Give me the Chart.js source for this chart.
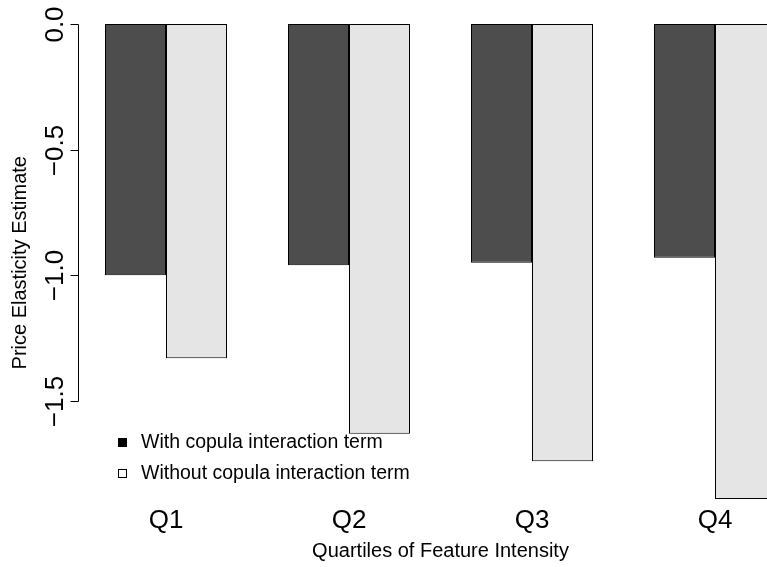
<!DOCTYPE html>
<html>
<head>
<meta charset="utf-8">
<style>
  html, body { margin: 0; padding: 0; overflow: hidden; background: #ffffff; }
  #wrap { width: 830px; height: 567px; }
</style>
<script src="https://cdn.jsdelivr.net/npm/chart.js@4/dist/chart.umd.min.js"></script>
</head>
<body>
<div id="wrap"><canvas id="c" width="830" height="567"></canvas></div>
<script>
const categories = ['Q1', 'Q2', 'Q3', 'Q4'];
const withCopula = [-1.00, -0.96, -0.95, -0.93];
const withoutCopula = [-1.33, -1.63, -1.74, -1.89];
const seriesNames = ['With copula interaction term', 'Without copula interaction term'];
const yTicks = [0, -0.5, -1.0, -1.5];
const legendFill = ['#000000', '#ffffff'];

const FONT = '"Liberation Sans", Arial, Helvetica, sans-serif';
const fmt = v => v.toFixed(1).replace('-', '\u2212');

// Left axis in the classic R style: the line runs only from first to last tick,
// labels are rotated to read bottom-to-top.
const rAxis = {
  id: 'rAxis',
  afterDraw(chart) {
    const { ctx, chartArea, scales: { y } } = chart;
    const ax = Math.round(chartArea.left + 3.7) + 0.5;
    const p = yTicks.map(v => Math.round(y.getPixelForValue(v)) + 0.5);
    ctx.save();
    ctx.strokeStyle = '#000';
    ctx.lineWidth = 1;
    ctx.beginPath();
    ctx.moveTo(ax, Math.min(...p));
    ctx.lineTo(ax, Math.max(...p));
    p.forEach(py => { ctx.moveTo(ax, py); ctx.lineTo(ax - 8, py); });
    ctx.stroke();
    ctx.fillStyle = '#000';
    ctx.font = '26px ' + FONT;
    ctx.textAlign = 'center';
    ctx.textBaseline = 'alphabetic';
    yTicks.forEach((v, i) => {
      ctx.save();
      ctx.translate(ax - 16, p[i]);
      ctx.rotate(-Math.PI / 2);
      ctx.fillText(fmt(v), 0, 0);
      ctx.restore();
    });
    ctx.restore();
  }
};

// Legend in the lower-left corner of the plot, point symbols plus text.
const rLegend = {
  id: 'rLegend',
  afterDraw(chart) {
    const { ctx, chartArea } = chart;
    const x0 = Math.round(chartArea.left + 47.5);
    const rows = [chartArea.bottom - 59.5, chartArea.bottom - 28.5];
    ctx.save();
    ctx.font = '19.5px ' + FONT;
    ctx.textAlign = 'left';
    ctx.textBaseline = 'middle';
    chart.data.datasets.forEach((ds, i) => {
      const cy = Math.round(rows[i]);
      ctx.fillStyle = legendFill[i];
      ctx.fillRect(x0 - 4, cy - 4, 9, 9);
      ctx.strokeStyle = '#000';
      ctx.lineWidth = 1;
      ctx.strokeRect(x0 - 3.5, cy - 3.5, 8, 8);
      ctx.fillStyle = '#000';
      ctx.fillText(ds.label, x0 + 19, cy + 0.5);
    });
    ctx.restore();
  }
};

new Chart(document.getElementById('c'), {
  type: 'bar',
  data: {
    labels: categories,
    datasets: [
      { label: seriesNames[0], data: withCopula, backgroundColor: '#4d4d4d',
        borderColor: '#000', borderWidth: 1, borderSkipped: false },
      { label: seriesNames[1], data: withoutCopula, backgroundColor: '#e5e5e5',
        borderColor: '#000', borderWidth: 1, borderSkipped: false }
    ]
  },
  options: {
    responsive: false,
    animation: false,
    devicePixelRatio: 1,
    layout: { padding: { left: 0, right: 23.5, top: 24, bottom: 0 } },
    datasets: { bar: { categoryPercentage: 2 / 3, barPercentage: 1 } },
    plugins: { legend: { display: false }, tooltip: { enabled: false } },
    scales: {
      x: {
        grid: { display: false, drawTicks: false },
        border: { display: false },
        ticks: { font: { family: FONT, size: 26 }, color: '#000', padding: 4, maxRotation: 0, autoSkip: false },
        title: { display: true, text: 'Quartiles of Feature Intensity', color: '#000',
                 font: { family: FONT, size: 20 }, padding: { top: 4, bottom: 4 } },
        afterFit(s) { s.height = 65.5; }
      },
      y: {
        min: -1.9,
        max: 0,
        grid: { display: false, drawTicks: false },
        border: { display: false },
        ticks: { display: false },
        title: { display: true, text: 'Price Elasticity Estimate', color: '#000',
                 font: { family: FONT, size: 20 }, padding: { top: 8, bottom: 0 } },
        afterFit(s) { s.width = 74.5; }
      }
    }
  },
  plugins: [rAxis, rLegend]
});
</script>
</body>
</html>
